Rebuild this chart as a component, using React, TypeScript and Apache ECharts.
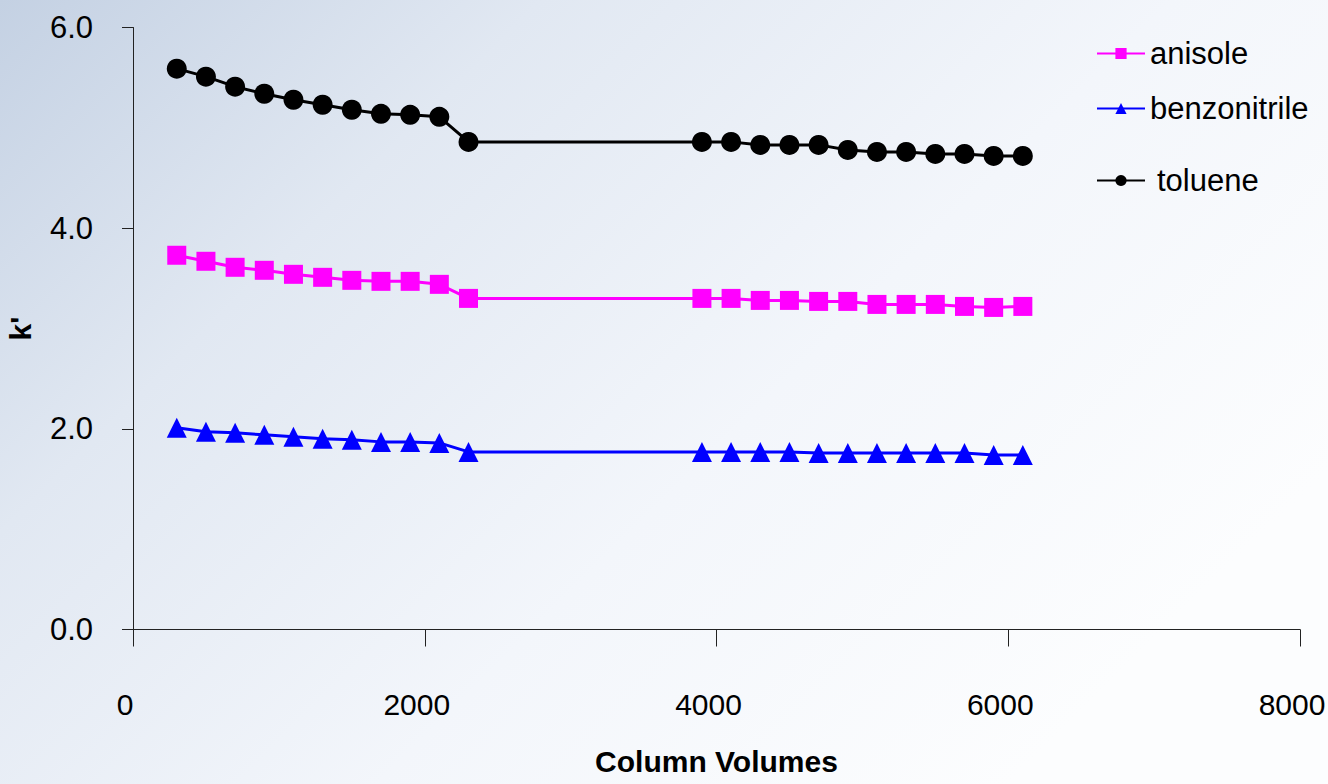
import React, { useEffect, useRef } from "react";
import * as echarts from "echarts";

const columnVolumes = [300, 500, 700, 900, 1100, 1300, 1500, 1700, 1900, 2100, 2300, 3900, 4100, 4300, 4500, 4700, 4900, 5100, 5300, 5500, 5700, 5900, 6100];
const anisole = [3.73, 3.67, 3.61, 3.58, 3.54, 3.51, 3.48, 3.47, 3.47, 3.44, 3.30, 3.30, 3.30, 3.28, 3.28, 3.27, 3.27, 3.24, 3.24, 3.24, 3.22, 3.21, 3.22];
const benzonitrile = [2.01, 1.97, 1.96, 1.94, 1.92, 1.90, 1.89, 1.87, 1.87, 1.86, 1.77, 1.77, 1.77, 1.77, 1.77, 1.76, 1.76, 1.76, 1.76, 1.76, 1.76, 1.74, 1.74];
const toluene = [5.59, 5.51, 5.41, 5.34, 5.28, 5.23, 5.18, 5.14, 5.13, 5.11, 4.86, 4.86, 4.86, 4.83, 4.83, 4.83, 4.78, 4.76, 4.76, 4.74, 4.74, 4.72, 4.72];
const seriesNames = ["anisole", "benzonitrile", "toluene"];
const xTitle = "Column Volumes";
const yTitle = "k'";

const FONT = "'Liberation Sans', Arial, sans-serif";

export default function App() {
  const ref = useRef<HTMLDivElement>(null);
  useEffect(() => {
    document.body.style.margin = "0";
    if (!ref.current) return;
    const chart = echarts.init(ref.current, undefined, { renderer: "svg" });
    const pair = (ys: number[]) => columnVolumes.map((x, i) => [x, ys[i]]);
    const legendBase = {
      orient: "vertical" as const,
      left: 1096,
      padding: 0,
      itemWidth: 48,
      itemHeight: 14,
      textStyle: { fontSize: 31, fontFamily: FONT, color: "#000", lineHeight: 30 },
    };
    chart.setOption({
      animation: false,
      backgroundColor: {
        type: "linear",
        x: 0,
        y: 0,
        x2: 1,
        y2: 0.6,
        colorStops: [
          { offset: 0, color: "#c4d1e3" },
          { offset: 0.3, color: "#e1e8f2" },
          { offset: 0.65, color: "#f3f6fb" },
          { offset: 1, color: "#fcfdfe" },
        ],
      },
      textStyle: { fontFamily: FONT },
      grid: { left: 133, right: 28, top: 27.5, bottom: 154.5, outerBoundsMode: "none", containLabel: false },
      legend: [
        { ...legendBase, data: [seriesNames[0]], top: 38 },
        { ...legendBase, data: [seriesNames[1]], top: 93 },
        {
          ...legendBase,
          data: [seriesNames[2]],
          top: 165,
          textStyle: { ...legendBase.textStyle, padding: [0, 0, 0, 7] },
        },
      ],
      xAxis: {
        type: "value",
        min: 0,
        max: 8000,
        interval: 2000,
        name: xTitle,
        nameLocation: "middle",
        nameGap: 117,
        nameTextStyle: { fontSize: 30, fontWeight: "bold", color: "#000", fontFamily: FONT },
        axisLine: { show: true, onZero: false, lineStyle: { color: "#222", width: 1 } },
        axisTick: { show: true, length: 17, lineStyle: { color: "#222", width: 1 } },
        axisLabel: {
          fontSize: 30,
          color: "#000",
          margin: 60,
          padding: [0, 16, 0, 0],
          fontFamily: FONT,
          formatter: (v: number) => String(v),
        },
        splitLine: { show: false },
      },
      yAxis: {
        type: "value",
        min: 0,
        max: 6,
        interval: 2,
        name: yTitle,
        nameLocation: "middle",
        nameRotate: 90,
        nameGap: 98,
        nameTextStyle: { fontSize: 30, fontWeight: "bold", color: "#000", fontFamily: FONT },
        axisLine: { show: true, lineStyle: { color: "#222", width: 1 } },
        axisTick: { show: true, length: 11, lineStyle: { color: "#222", width: 1 } },
        axisLabel: {
          fontSize: 31,
          color: "#000",
          margin: 40,
          fontFamily: FONT,
          formatter: (v: number) => v.toFixed(1),
        },
        splitLine: { show: false },
      },
      series: [
        {
          name: seriesNames[0],
          type: "line",
          data: pair(anisole),
          symbol: "rect",
          symbolSize: 19,
          color: "#ff00ff",
          lineStyle: { color: "#ff00ff", width: 3 },
          itemStyle: { color: "#ff00ff" },
        },
        {
          name: seriesNames[1],
          type: "line",
          data: pair(benzonitrile),
          symbol: "triangle",
          symbolSize: 20,
          color: "#0000ff",
          lineStyle: { color: "#0000ff", width: 3 },
          itemStyle: { color: "#0000ff" },
        },
        {
          name: seriesNames[2],
          type: "line",
          data: pair(toluene),
          symbol: "circle",
          symbolSize: 20,
          color: "#000000",
          lineStyle: { color: "#000000", width: 3 },
          itemStyle: { color: "#000000" },
        },
      ],
    });
    return () => chart.dispose();
  }, []);
  return <div ref={ref} style={{ width: 1328, height: 784 }} />;
}
